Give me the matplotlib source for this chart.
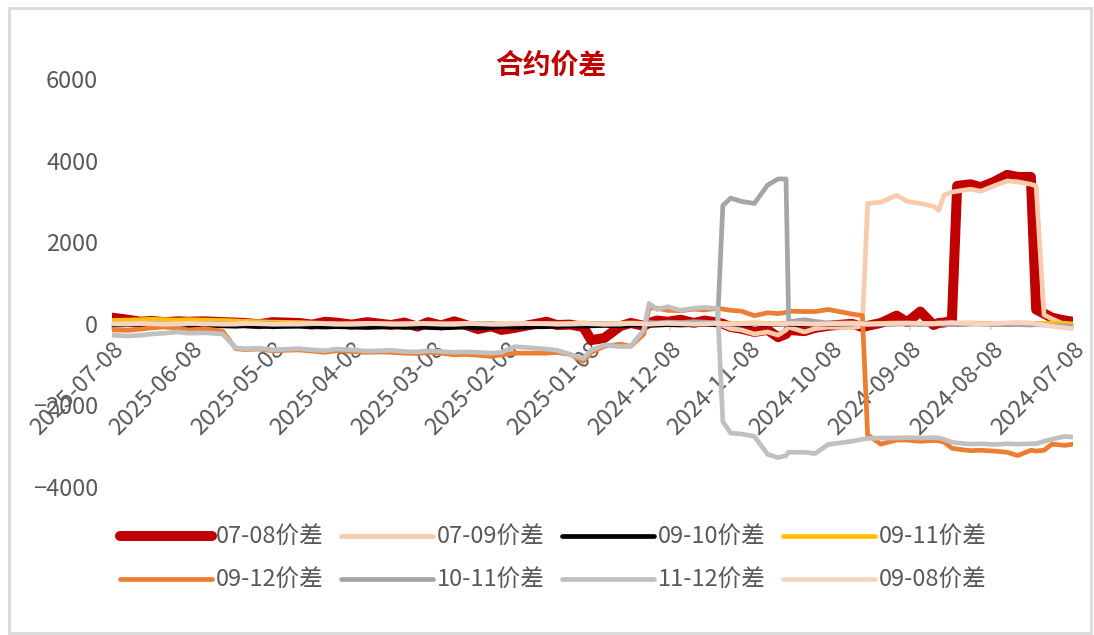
import matplotlib
matplotlib.use('Agg')
import matplotlib.pyplot as plt
import matplotlib.dates as mdates
from matplotlib.patches import Rectangle
import pandas as pd

plt.rcParams['font.family'] = ['Noto Sans CJK SC', 'DejaVu Sans']
plt.rcParams['font.weight'] = 'light'
FONTSIZE = 17
TEXT_COLOR = '#595959'

dates = pd.to_datetime([
    '2024-07-08', '2024-07-11', '2024-07-16', '2024-07-19', '2024-07-22', '2024-07-24',
    '2024-07-29', '2024-08-02', '2024-08-07', '2024-08-12', '2024-08-16', '2024-08-21',
    '2024-08-23', '2024-08-26', '2024-08-28', '2024-08-30', '2024-09-04', '2024-09-09',
    '2024-09-13', '2024-09-19', '2024-09-24', '2024-09-26', '2024-09-30', '2024-10-09',
    '2024-10-14', '2024-10-18', '2024-10-24', '2024-10-25', '2024-10-28', '2024-11-01',
    '2024-11-06', '2024-11-11', '2024-11-15', '2024-11-18', '2024-11-20', '2024-11-25',
    '2024-11-29', '2024-12-04', '2024-12-09', '2024-12-13', '2024-12-16', '2024-12-18',
    '2024-12-23', '2024-12-27', '2025-01-02', '2025-01-07', '2025-01-10', '2025-01-15',
    '2025-01-20', '2025-01-24', '2025-02-05', '2025-02-10', '2025-02-14', '2025-02-19',
    '2025-02-24', '2025-02-28', '2025-03-05', '2025-03-10', '2025-03-14', '2025-03-19',
    '2025-03-24', '2025-03-28', '2025-04-02', '2025-04-08', '2025-04-14', '2025-04-18',
    '2025-04-23', '2025-04-28', '2025-05-08', '2025-05-13', '2025-05-19', '2025-05-22',
    '2025-05-27', '2025-06-03', '2025-06-09', '2025-06-13', '2025-06-18', '2025-06-23',
    '2025-06-27', '2025-07-02', '2025-07-08',
])

spread_07_08 = [
    50, 80, 150, 250, 350, 3600, 3600, 3650, 3480, 3350, 3420, 3380,
    80, 30, 20, -30, 300, 40, 200, 20, -50, -80, 0, -50,
    -100, -180, -150, -250, -330, -150, -200, -120, -80, 0, 30, 80,
    20, 100, 50, 80, 20, -50, 20, -60, -350, -400, -80, -20,
    -30, 50, -100, -150, -60, -130, -20, 60, -40, 40, -70, 30,
    -30, 0, 40, -20, 30, 50, -20, 20, 40, -10, 20, 30,
    40, 60, 50, 60, 40, 70, 50, 100, 150,
]
spread_07_09 = [
    -80, -20, 120, 220, 3380, 3420, 3480, 3500, 3380, 3250, 3300, 3250,
    3230, 3150, 2780, 2880, 2950, 3000, 3150, 2980, 2950, -50, -100, -80,
    -120, -200, -80, -150, -280, -200, -250, -150, -120, -40, -20, -10,
    -30, 0, -20, -40, -30, -20, -40, -10, -30, -50, -20, -40,
    0, -30, -40, -50, -30, -60, -40, -30, -50, -40, -60, -30,
    -50, -40, -30, -50, -40, -30, -40, -50, -30, -40, -50, -30,
    -40, -30, -40, -30, -50, -40, -30, -40, -40,
]
spread_09_10 = [
    0, 10, 0, -10, 0, 10, 0, -10, 0, 10, 0, -10,
    0, 10, 0, -10, 0, 10, 0, -10, 0, 10, 0, -10,
    0, -20, -10, 0, -20, -10, 0, -20, -10, 0, -20, -10,
    -20, -30, -20, -30, -40, -30, -40, -50, -40, -50, -60, -50,
    -60, -70, -80, -70, -90, -100, -80, -90, -100, -90, -80, -90,
    -70, -80, -90, -80, -70, -80, -70, -60, -70, -60, -50, -60,
    -50, -40, -50, -40, -30, -40, -30, -20, -30,
]
spread_09_11 = [
    0, 10, 20, 10, 0, 10, 20, 10, 0, 10, 20, 10,
    0, 10, 20, 10, 0, 10, 20, 10, 0, 10, 20, 10,
    0, 10, 20, 10, 0, 10, 20, 10, 0, 10, 20, 10,
    0, 10, 20, 10, 0, 10, 20, 10, 0, 10, 20, 10,
    0, 10, 0, -10, 0, 10, 0, -10, 0, 10, 0, -10,
    0, 10, 0, -10, 0, 10, 20, 30, 40, 50, 60, 70,
    80, 90, 100, 90, 100, 110, 100, 90, 80,
]
spread_09_12 = [
    -2950, -2980, -2950, -3100, -3120, -3100, -3230, -3150, -3120, -3100, -3110, -3070,
    -3050, -2900, -2870, -2860, -2880, -2850, -2850, -2950, -2720, 200, 240, 350,
    300, 300, 310, 280, 250, 270, 200, 310, 330, 360, 380, 340,
    360, 320, 330, 380, 400, -250, -550, -500, -550, -700, -920, -750,
    -700, -720, -720, -760, -800, -770, -750, -760, -720, -700, -730, -720,
    -700, -690, -700, -680, -660, -700, -670, -640, -660, -620, -630, -610,
    -180, -120, -150, -100, -80, -100, -130, -160, -150,
]
spread_10_11 = [
    -60, -50, -40, -30, -20, -30, -20, -10, -20, -10, 0, -10,
    -20, -10, 0, -10, -20, -10, 0, -10, -10, 0, 10, 20,
    60, 100, 50, 3550, 3550, 3400, 2950, 3000, 3080, 2900, 20, 40,
    50, 30, 40, 20, 30, 0, 10, -10, 0, 10, 0, -10,
    0, 10, 0, -10, 0, 10, 0, -10, 0, 10, 0, -10,
    0, 10, 0, -10, 0, 10, 0, -10, 0, 10, 0, -10,
    0, 10, 0, -10, 0, 10, 0, -10, 0,
]
spread_11_12 = [
    -2780, -2760, -2830, -2880, -2940, -2940, -2950, -2940, -2960, -2940, -2950, -2920,
    -2900, -2830, -2800, -2790, -2800, -2790, -2800, -2800, -2810, -2830, -2880, -2960,
    -3180, -3150, -3150, -3230, -3280, -3200, -2760, -2700, -2680, -2400, 380, 400,
    380, 330, 420, 350, 500, -150, -550, -560, -520, -650, -850, -750,
    -650, -620, -560, -700, -720, -700, -690, -700, -680, -660, -690, -680,
    -650, -660, -670, -640, -620, -660, -640, -610, -640, -600, -610, -590,
    -250, -220, -230, -200, -230, -250, -280, -300, -280,
]
spread_09_08 = [
    -120, -100, -60, -30, 0, 20, 30, 20, 10, 0, 10, 20,
    30, 20, 10, 0, 10, 20, 10, 0, -10, 0, 10, 0,
    -10, 0, 10, 0, -10, 0, 10, 0, -10, 0, 10, 0,
    -10, 0, 10, 0, -10, 0, 10, 0, -10, 0, 10, 0,
    -10, 0, 10, 0, -10, 0, 10, 0, -10, 0, 10, 0,
    -10, 0, 10, 0, -10, 0, 10, 0, -10, 0, 10, 0,
    -10, 0, 10, 0, -10, 0, 10, 0, 0,
]

series = [
    ('07-08价差', spread_07_08, '#C00000', 7.2),
    ('07-09价差', spread_07_09, '#F8CBAD', 3.4),
    ('09-10价差', spread_09_10, '#000000', 3.4),
    ('09-11价差', spread_09_11, '#FFC000', 3.4),
    ('09-12价差', spread_09_12, '#ED7D31', 3.4),
    ('10-11价差', spread_10_11, '#A5A5A5', 3.4),
    ('11-12价差', spread_11_12, '#C0C0C0', 3.4),
    ('09-08价差', spread_09_08, '#F9D3C2', 3.4),
]

fig = plt.figure(figsize=(10.94, 6.35), dpi=100)
ax = fig.add_axes([0.1024, 0.2331, 0.8784, 0.6425])

lines = []
for i, (label, values, color, lw) in enumerate(series):
    ln, = ax.plot(dates, values, color=color, linewidth=lw, label=label, zorder=2 + i,
                  solid_capstyle='round', solid_joinstyle='round')
    lines.append(ln)

ax.set_ylim(-4000, 6000)
ax.set_yticks([-4000, -2000, 0, 2000, 4000, 6000])
ax.set_xlim(pd.Timestamp('2025-07-08'), pd.Timestamp('2024-07-08'))
ax.xaxis.set_major_locator(mdates.MonthLocator(bymonthday=8))
ax.xaxis.set_major_formatter(mdates.DateFormatter('%Y-%m-%d'))

for side in ['top', 'right', 'left']:
    ax.spines[side].set_visible(False)
ax.spines['bottom'].set_position(('data', 0))
ax.spines['bottom'].set_color('#D9D9D9')
ax.spines['bottom'].set_linewidth(1.5)
ax.spines['bottom'].set_zorder(1)

ax.tick_params(axis='y', length=0, pad=10, labelsize=FONTSIZE, labelcolor=TEXT_COLOR)
ax.tick_params(axis='x', length=4, width=1.5, color='#D9D9D9', pad=6,
               labelsize=FONTSIZE, labelcolor=TEXT_COLOR)
for lab in ax.get_xticklabels():
    lab.set_rotation(45)
    lab.set_ha('right')
    lab.set_va('top')
    lab.set_rotation_mode('anchor')

fig.text(0.503, 1 - 66 / 635, '合约价差', color='#C00000', fontsize=20,
         fontweight='bold', ha='center', va='center')

# legend filled row by row like the original
order = [0, 4, 1, 5, 2, 6, 3, 7]
ax.legend([lines[k] for k in order], [series[k][0] for k in order],
          loc='upper left', bbox_to_anchor=(108 / 1094, 1 - 514 / 635),
          bbox_transform=fig.transFigure, ncol=4, frameon=False,
          fontsize=FONTSIZE, handlelength=3.9, handletextpad=0.15,
          columnspacing=0.75, labelspacing=0.85, borderpad=0,
          labelcolor=TEXT_COLOR)

fig.patches.append(Rectangle((9 / 1094, 2 / 635), 1082 / 1094, 625 / 635,
                             transform=fig.transFigure, fill=False,
                             edgecolor='#D9D9D9', linewidth=2))

plt.savefig('out.png', dpi=100)
plt.close()
